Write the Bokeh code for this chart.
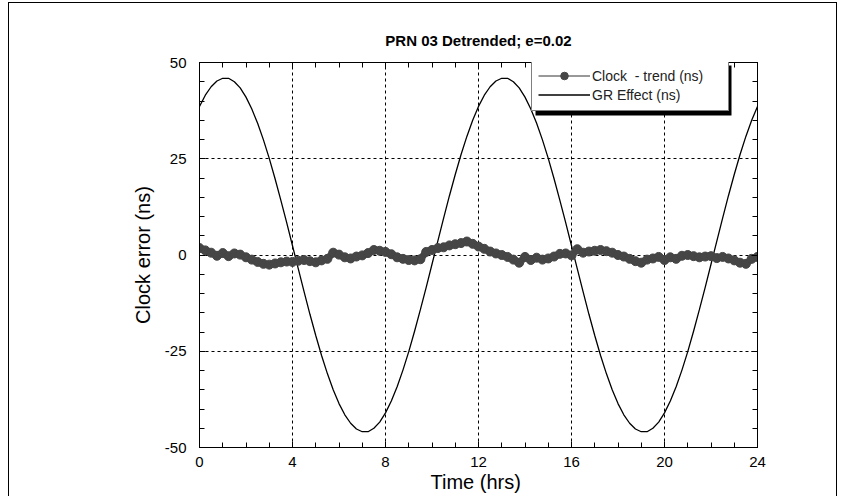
from bokeh.plotting import figure
from bokeh.models import (LinearAxis, Legend, LegendItem, SingleIntervalTicker,
                          Range1d, BoxAnnotation)
from bokeh.embed import file_html
from bokeh.resources import INLINE

# ---------------- data ----------------
hours = [0.00, 0.25, 0.50, 0.75, 1.00, 1.25, 1.50, 1.75, 2.00, 2.25, 2.50, 2.75,
         3.00, 3.25, 3.50, 3.75, 4.00, 4.25, 4.50, 4.75, 5.00, 5.25, 5.50, 5.75,
         6.00, 6.25, 6.50, 6.75, 7.00, 7.25, 7.50, 7.75, 8.00, 8.25, 8.50, 8.75,
         9.00, 9.25, 9.50, 9.75, 10.00, 10.25, 10.50, 10.75, 11.00, 11.25, 11.50, 11.75,
         12.00, 12.25, 12.50, 12.75, 13.00, 13.25, 13.50, 13.75, 14.00, 14.25, 14.50, 14.75,
         15.00, 15.25, 15.50, 15.75, 16.00, 16.25, 16.50, 16.75, 17.00, 17.25, 17.50, 17.75,
         18.00, 18.25, 18.50, 18.75, 19.00, 19.25, 19.50, 19.75, 20.00, 20.25, 20.50, 20.75,
         21.00, 21.25, 21.50, 21.75, 22.00, 22.25, 22.50, 22.75, 23.00, 23.25, 23.50, 23.75,
         24.00]

gr_effect_ns = [38.6, 41.5, 43.7, 45.2, 45.9, 45.9, 45.0, 43.4, 41.0, 37.9, 34.2, 29.9,
                25.1, 19.8, 14.2, 8.4, 2.4, -3.6, -9.6, -15.4, -20.9, -26.1, -30.8, -35.0,
                -38.6, -41.5, -43.7, -45.2, -45.9, -45.9, -45.0, -43.4, -41.0, -37.9, -34.2, -29.9,
                -25.1, -19.8, -14.2, -8.4, -2.4, 3.6, 9.6, 15.4, 20.9, 26.1, 30.8, 35.0,
                38.6, 41.5, 43.7, 45.2, 45.9, 45.9, 45.0, 43.4, 41.0, 37.9, 34.2, 29.9,
                25.1, 19.8, 14.2, 8.4, 2.4, -3.6, -9.6, -15.4, -20.9, -26.1, -30.8, -35.0,
                -38.6, -41.5, -43.7, -45.2, -45.9, -45.9, -45.0, -43.4, -41.0, -37.9, -34.2, -29.9,
                -25.1, -19.8, -14.2, -8.4, -2.4, 3.6, 9.6, 15.4, 20.9, 26.1, 30.8, 35.0,
                38.6]

clock_minus_trend_ns = [1.8, 1.2, 0.6, -0.2, 0.5, -0.3, 0.4, 0.1, -0.6, -1.2, -1.8, -2.3,
                        -2.5, -2.2, -1.9, -1.7, -1.8, -1.5, -1.3, -1.6, -1.9, -1.4, -1.0, 0.6,
                        0.1, -0.6, -0.9, -0.4, -0.1, 0.5, 1.3, 1.1, 0.8, 0.2, -0.6, -1.0,
                        -1.3, -1.4, -1.1, 0.8, 1.3, 1.8, 2.0, 2.5, 2.8, 3.1, 3.5, 2.9,
                        2.2, 1.6, 0.9, 0.4, 0.0, -0.5, -1.2, -2.0, -0.5, -1.3, -0.7, -1.2,
                        -0.9, -0.4, 0.3, 0.4, -0.1, 1.5, 0.6, 0.9, 1.1, 1.3, 1.0, 0.6,
                        0.0, -0.4, -1.0, -1.6, -2.0, -1.2, -0.9, -0.5, -1.3, -0.6, -1.0, -0.2,
                        0.0, -0.3, -0.6, -0.4, -0.3, -0.8, -0.5, -0.9, -1.4, -2.0, -2.3, -1.0,
                        -0.5]

x_ticks = [0, 4, 8, 12, 16, 20, 24]
x_tick_labels = ["0", "4", "8", "12", "16", "20", "24"]
y_ticks = [-50, -25, 0, 25, 50]
y_tick_labels = ["-50", "-25", "0", "25", "50"]

title_text = "PRN 03 Detrended; e=0.02"
x_label = "Time  (hrs)"
y_label = "Clock error (ns)"
clock_label = "Clock  - trend (ns)"
gr_label = "GR Effect (ns)"

FONT = "Liberation Sans"
CLOCK_COLOR = "#464646"

# ---------------- figure ----------------
p = figure(width=829, height=494,
           x_range=Range1d(x_ticks[0], x_ticks[-1]),
           y_range=Range1d(y_ticks[0], y_ticks[-1]),
           output_backend="svg", toolbar_location=None,
           min_border_left=190, min_border_right=81,
           min_border_top=59, min_border_bottom=50,
           background_fill_color="white", border_fill_color="white")
p.styles = {"border-left": "1px solid black", "border-right": "1px solid black",
            "border-top": "1px solid black", "margin-top": "2px", "margin-left": "8px"}

p.outline_line_color = "black"
p.outline_line_width = 1

xt = SingleIntervalTicker(interval=x_ticks[1] - x_ticks[0], num_minor_ticks=4)
yt = SingleIntervalTicker(interval=y_ticks[1] - y_ticks[0], num_minor_ticks=5)


def style_axis(ax, labels=True):
    ax.axis_line_color = "black"
    ax.major_tick_line_color = "black"
    ax.minor_tick_line_color = "black"
    ax.major_tick_in = 6
    ax.major_tick_out = 0
    ax.minor_tick_in = 5
    ax.minor_tick_out = 0
    if labels:
        ax.major_label_text_font = FONT
        ax.major_label_text_font_size = "15px"
        ax.major_label_text_color = "black"
        ax.axis_label_text_font = FONT
        ax.axis_label_text_font_size = "20px"
        ax.axis_label_text_font_style = "normal"
        ax.axis_label_text_color = "black"
    else:
        ax.major_label_text_color = None
        ax.major_label_text_font_size = "10px"
        ax.major_label_standoff = 0


p.xaxis.ticker = xt
p.yaxis.ticker = yt
p.xaxis.major_label_overrides = dict(zip(x_ticks, x_tick_labels))
p.yaxis.major_label_overrides = dict(zip(y_ticks, y_tick_labels))
p.xaxis.axis_label = x_label
p.yaxis.axis_label = y_label
style_axis(p.xaxis[0])
style_axis(p.yaxis[0])
p.xaxis.major_label_standoff = 9
p.xaxis.axis_label_standoff = 1
p.yaxis.major_label_standoff = 13
p.yaxis.axis_label_standoff = 8

# top axis: inward ticks, hidden tick labels, carries the chart title
top_ax = LinearAxis(ticker=xt)
style_axis(top_ax, labels=False)
top_ax.axis_label = title_text
top_ax.axis_label_text_font = FONT
top_ax.axis_label_text_font_size = "15px"
top_ax.axis_label_text_font_style = "bold"
top_ax.axis_label_text_color = "black"
top_ax.axis_label_standoff = 14
p.add_layout(top_ax, "above")

right_ax = LinearAxis(ticker=yt)
style_axis(right_ax, labels=False)
p.add_layout(right_ax, "right")

for g in (p.xgrid[0], p.ygrid[0]):
    g.grid_line_color = "black"
    g.grid_line_dash = "3 3"
    g.grid_line_width = 1
p.xgrid.ticker = xt
p.ygrid.ticker = yt

# ---------------- glyphs ----------------
gr_line = p.line(hours, gr_effect_ns, line_color="black", line_width=1.3)
p.line(hours, clock_minus_trend_ns, line_color=CLOCK_COLOR, line_width=7)
clock_line = p.line(hours, clock_minus_trend_ns, line_color="#333333", line_width=1)
# small markers (hidden under the band) used for the legend sample
clock_pts_small = p.scatter(hours, clock_minus_trend_ns, size=6,
                            fill_color=CLOCK_COLOR, line_color=CLOCK_COLOR)
p.scatter(hours, clock_minus_trend_ns, size=9,
          fill_color=CLOCK_COLOR, line_color=CLOCK_COLOR)

# ---------------- legend with drop shadow ----------------
LEG_X, LEG_Y, LEG_W, LEG_H, SHADOW = 332, 336, 196, 50, 4
shadow_box = BoxAnnotation(left=LEG_X + SHADOW, right=LEG_X + LEG_W + SHADOW,
                           bottom=LEG_Y - SHADOW, top=LEG_Y + LEG_H - SHADOW,
                           left_units="screen", right_units="screen",
                           bottom_units="screen", top_units="screen",
                           fill_color="black", fill_alpha=1.0, line_color=None)
p.add_layout(shadow_box)

legend = Legend(items=[LegendItem(label=clock_label, renderers=[clock_line, clock_pts_small]),
                       LegendItem(label=gr_label, renderers=[gr_line])],
                location=(LEG_X, LEG_Y),
                padding=6, spacing=0, margin=0,
                glyph_width=52, glyph_height=19, label_height=19,
                label_standoff=2, label_width=130,
                label_text_font=FONT, label_text_font_size="14px",
                label_text_color="#222222",
                border_line_color="black", border_line_width=1,
                background_fill_color="white", background_fill_alpha=1.0)
p.add_layout(legend)

open("out.html", "w").write(file_html(p, INLINE))
